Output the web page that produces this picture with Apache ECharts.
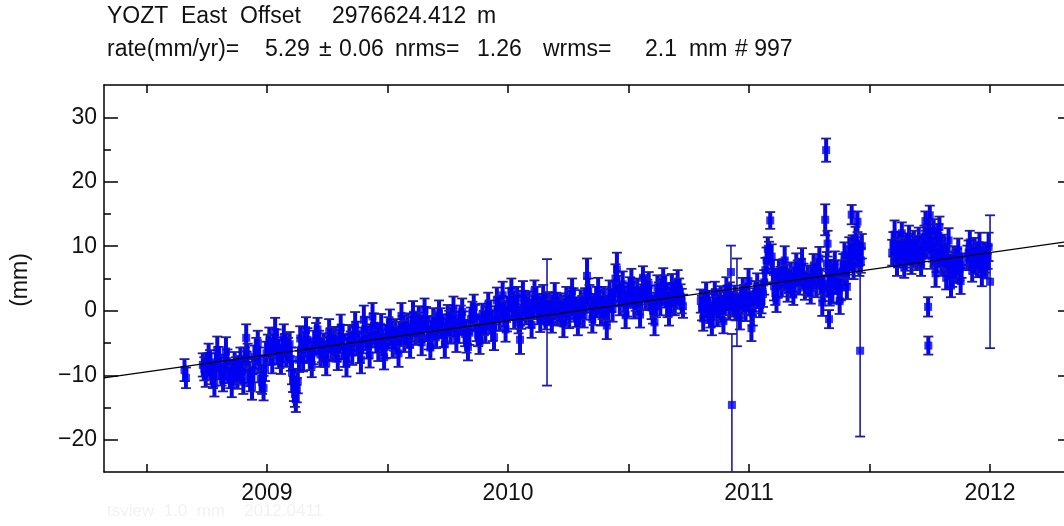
<!DOCTYPE html>
<html>
<head>
<meta charset="utf-8">
<script src="https://cdn.jsdelivr.net/npm/echarts@6/dist/echarts.min.js"></script>
<style>
  html, body { margin: 0; background: #fff; }
  #chart { width: 1064px; height: 526px; }
</style>
</head>
<body>
<div id="chart"></div>
<script>
// daily east positions (decimal year, mm, 1-sigma mm)
const obsYear = [
  2008.658, 2008.664,
  2008.734, 2008.746, 2008.758, 2008.770, 2008.782, 2008.794, 2008.806, 2008.818, 2008.830, 2008.842, 2008.854, 2008.866, 2008.878, 2008.890, 2008.902,
  2008.914, 2008.926, 2008.938, 2008.950, 2008.962, 2008.974, 2008.986, 2008.998,
  2009.010, 2009.022, 2009.034, 2009.046, 2009.058, 2009.070, 2009.082, 2009.094,
  2009.104, 2009.112, 2009.120, 2009.128,
  2009.138, 2009.150, 2009.162, 2009.174, 2009.186, 2009.198, 2009.210, 2009.222, 2009.234, 2009.246, 2009.258, 2009.270, 2009.282, 2009.294, 2009.306, 2009.318, 2009.330, 2009.342,
  2009.354, 2009.366, 2009.378, 2009.390, 2009.402, 2009.414, 2009.426, 2009.438, 2009.450, 2009.462, 2009.474, 2009.486, 2009.498, 2009.510, 2009.522, 2009.534, 2009.546, 2009.558, 2009.570,
  2009.582, 2009.594, 2009.606, 2009.618, 2009.630, 2009.642, 2009.654, 2009.666, 2009.678, 2009.690, 2009.702, 2009.714, 2009.726, 2009.738, 2009.750, 2009.762, 2009.774, 2009.786, 2009.798, 2009.810, 2009.822, 2009.834, 2009.846, 2009.858, 2009.870, 2009.882, 2009.894, 2009.906, 2009.918, 2009.930, 2009.942,
  2009.954, 2009.966, 2009.978, 2009.990, 2010.002, 2010.014, 2010.026, 2010.038, 2010.050, 2010.062, 2010.074, 2010.086, 2010.098, 2010.110, 2010.122, 2010.134, 2010.146, 2010.156, 2010.162,
  2010.170, 2010.182, 2010.194, 2010.206, 2010.218, 2010.230, 2010.242, 2010.254, 2010.266, 2010.278, 2010.290, 2010.302, 2010.314, 2010.328, 2010.338, 2010.350, 2010.362, 2010.374, 2010.386, 2010.398, 2010.410, 2010.422, 2010.434, 2010.446, 2010.452, 2010.464, 2010.476, 2010.488, 2010.500,
  2010.512, 2010.524, 2010.536, 2010.548, 2010.560, 2010.572, 2010.584, 2010.596, 2010.608, 2010.620, 2010.632, 2010.644, 2010.656, 2010.668, 2010.680, 2010.692, 2010.704, 2010.716, 2010.726,
  2010.800, 2010.810, 2010.822, 2010.834, 2010.846, 2010.858, 2010.870, 2010.882, 2010.894, 2010.906, 2010.918, 2010.925, 2010.929,
  2010.940, 2010.950, 2010.962, 2010.974, 2010.986, 2010.998, 2011.010, 2011.022, 2011.034, 2011.046,
  2011.058, 2011.068, 2011.078, 2011.088, 2011.094, 2011.104, 2011.114, 2011.124,
  2011.136, 2011.148, 2011.160, 2011.172, 2011.184, 2011.196, 2011.208, 2011.220, 2011.232, 2011.244, 2011.256,
  2011.268, 2011.280, 2011.292, 2011.304, 2011.316, 2011.320, 2011.326, 2011.332, 2011.338, 2011.346,
  2011.356, 2011.366, 2011.376, 2011.386, 2011.396, 2011.406,
  2011.416, 2011.426, 2011.434, 2011.442, 2011.450, 2011.458, 2011.461, 2011.468,
  2011.594, 2011.604, 2011.614, 2011.624, 2011.634, 2011.644, 2011.654, 2011.664, 2011.674, 2011.684, 2011.694, 2011.704, 2011.714,
  2011.724, 2011.732, 2011.740, 2011.743, 2011.744, 2011.750, 2011.758, 2011.766, 2011.774, 2011.782, 2011.790, 2011.798,
  2011.808, 2011.818, 2011.828, 2011.838, 2011.848, 2011.858, 2011.868, 2011.878,
  2011.906, 2011.916, 2011.926, 2011.936, 2011.946, 2011.956, 2011.966, 2011.976, 2011.986, 2011.994, 2012.000
];
const obsEast = [
  -9.2, -10.4,
  -8.4, -10.1, -7.0, -9.6, -11.3, -6.1, -8.9, -10.7, -6.3, -9.5, -11.5, -8.2, -10.4, -7.5, -11.0,
  -4.2, -9.8, -11.8, -7.2, -5.0, -10.5, -12.0, -6.6,
  -4.6, -7.9, -3.3, -6.4, -8.1, -4.1, -6.9, -5.2,
  -9.6, -12.1, -13.6, -11.0,
  -4.3, -7.6, -3.0, -6.2, -8.4, -4.9, -2.9, -6.8, -5.3, -8.0, -3.4, -6.0, -4.4, -7.4, -2.6, -5.6, -8.2, -4.0,
  -6.5, -2.2, -5.1, -7.6, -1.4, -4.3, -6.9, -0.9, -3.7, -5.9, -2.5, -7.2, -4.0, -1.8, -5.4, -3.1, -6.6, -0.8, -4.6,
  -2.3, -5.3, -0.6, -3.5, -1.2, -4.9, 0.1, -2.8, -5.7, -1.6, -3.9, -0.4, -2.4, -5.2, -1.0, -3.3, 0.3, -4.4, -1.9, -0.2, -3.6, -5.6, -1.3, 0.6, -2.7, -4.8, -0.7, -3.0, 0.9, -1.8, -4.1,
  1.6, -1.2, 2.4, -2.9, 0.4, 3.1, -0.8, 1.9, -4.5, 2.6, -0.2, 1.2, -2.2, 3.0, 0.7, -1.5, 2.1, -0.9, -1.8,
  1.0, -1.6, 2.3, -0.4, 0.9, -2.0, 1.8, -0.9, 3.0, 0.2, -1.9, 1.4, -0.6, 5.4, 2.1, -1.3, 0.8, 3.2, -0.5, 1.7, -2.3, 2.8, 0.3, 5.0, 6.4, 1.2, 4.1, -0.7, 2.5,
  4.6, 0.9, 3.2, -0.6, 5.1, 2.0, 4.0, 0.5, -1.8, 3.6, 1.4, 4.8, 2.4, -0.3, 3.8, 1.1, 4.3, 2.2, 0.7,
  1.5, -1.2, 2.6, 0.1, -2.0, 2.9, -0.5, 1.8, -1.6, 3.4, 0.6, 6.0, -14.6,
  2.0, 1.3, -1.0, 3.3, 0.4, 4.6, -2.7, 1.7, 3.8, 0.9,
  2.6, 6.3, 9.6, 14.0, 8.4, 3.8, 1.6, 5.9,
  4.2, 7.8, 3.3, 5.7, 2.5, 6.9, 4.4, 7.6, 3.6, 5.2, 2.9,
  6.8, 4.0, 8.1, 1.3, 14.1, 24.9, 10.4, -1.3, 6.0, 3.1,
  7.2, 4.4, 1.5, 5.9, 8.6, 3.7,
  9.4, 14.9, 6.8, 11.2, 13.8, 7.5, -6.2, 10.0,
  9.0, 11.8, 7.3, 10.2, 12.0, 6.9, 9.6, 11.4, 7.8, 10.5, 8.3, 11.0, 7.2,
  9.9, 13.9, 11.2, 0.6, -5.4, 14.8, 8.5, 12.4, 5.8, 10.6, 13.0, 7.4,
  9.8, 5.1, 10.9, 3.9, 8.0, 6.2, 9.4, 4.6,
  8.2, 10.6, 6.4, 9.3, 7.0, 10.1, 5.7, 8.8, 6.9, 9.9, 4.5
];
const obsSigma = [
  1.7, 1.6,
  1.8, 1.7, 1.9, 1.8, 2.0, 2.1, 1.7, 1.8, 2.2, 1.7, 1.9, 1.8, 1.7, 1.8, 1.9,
  2.1, 1.9, 2.0, 1.8, 1.9, 2.1, 1.9, 1.8,
  2.0, 1.8, 2.2, 1.9, 1.7, 2.0, 1.8, 1.9,
  1.8, 1.9, 2.1, 1.8,
  1.9, 1.8, 2.0, 1.9, 1.9, 1.8, 1.8, 1.9, 1.8, 2.0, 2.1, 1.8, 1.9, 1.8, 2.0, 1.9, 2.0, 1.8,
  1.9, 2.0, 1.8, 2.1, 2.2, 1.8, 1.9, 2.1, 1.8, 1.9, 2.0, 1.9, 1.8, 2.0, 1.9, 1.8, 2.1, 2.0, 1.8,
  1.9, 2.0, 2.1, 1.8, 1.9, 2.0, 1.8, 1.9, 1.8, 2.0, 1.9, 2.0, 1.8, 2.1, 1.9, 1.8, 1.9, 2.0, 1.8, 2.1, 1.9, 2.1, 1.8, 1.9, 2.0, 1.9, 1.8, 2.0, 1.9, 1.8, 2.0,
  2.0, 1.9, 2.1, 1.9, 1.8, 1.9, 2.0, 1.8, 2.2, 2.0, 1.9, 1.8, 2.0, 1.7, 1.9, 1.8, 1.9, 2.0, 9.8,
  1.9, 1.8, 2.0, 1.9, 1.8, 2.1, 1.9, 1.8, 2.0, 1.9, 1.9, 1.8, 2.0, 2.7, 1.9, 2.1, 1.8, 1.9, 1.8, 2.0, 2.1, 1.9, 2.0, 2.2, 2.6, 1.9, 2.0, 2.0, 1.8,
  1.9, 2.1, 1.8, 2.0, 1.8, 1.9, 2.0, 1.8, 2.0, 1.9, 2.1, 1.8, 1.9, 2.0, 1.9, 1.8, 2.0, 1.9, 1.8,
  1.8, 1.9, 1.8, 2.0, 1.8, 1.6, 1.9, 2.0, 1.9, 1.8, 2.0, 4.1, 11.0,
  1.9, 6.8, 1.9, 1.8, 2.0, 1.9, 2.0, 1.8, 2.0, 1.9,
  2.0, 1.9, 1.8, 1.3, 1.9, 2.2, 1.8, 2.0,
  2.0, 2.2, 1.9, 1.8, 1.6, 2.0, 1.9, 2.1, 1.9, 1.8, 1.8,
  2.0, 1.9, 1.8, 2.1, 2.4, 1.8, 2.0, 1.4, 1.9, 2.0,
  2.0, 1.8, 2.0, 1.9, 2.0, 1.9,
  2.0, 1.5, 1.9, 1.8, 1.6, 2.1, 13.3, 1.9,
  2.0, 2.2, 1.9, 2.0, 1.7, 1.8, 2.0, 1.8, 2.1, 1.9, 2.0, 1.9, 1.8,
  1.8, 1.5, 2.0, 1.5, 1.4, 1.5, 2.0, 1.8, 2.1, 1.9, 1.6, 2.0,
  2.0, 1.8, 1.9, 1.8, 2.0, 1.9, 1.8, 2.0,
  1.9, 1.8, 1.9, 2.0, 1.8, 2.0, 1.9, 1.8, 1.9, 2.2, 10.3
];

// the in-between days that fill the dense middle of the band
const midYear = [
  2008.740, 2008.752, 2008.764, 2008.776, 2008.788, 2008.800, 2008.812, 2008.824, 2008.836, 2008.848, 2008.860, 2008.872, 2008.884, 2008.896,
  2008.908, 2008.920, 2008.932, 2008.944, 2008.956, 2008.968, 2008.980, 2008.992, 2009.004,
  2009.016, 2009.028, 2009.040, 2009.052, 2009.064, 2009.076, 2009.088, 2009.099,
  2009.108, 2009.116, 2009.124, 2009.133,
  2009.144, 2009.156, 2009.168, 2009.180, 2009.192, 2009.204, 2009.216, 2009.228, 2009.240, 2009.252, 2009.264, 2009.276, 2009.288, 2009.300, 2009.312, 2009.324, 2009.336, 2009.348,
  2009.360, 2009.372, 2009.384, 2009.396, 2009.408, 2009.420, 2009.432, 2009.444, 2009.456, 2009.468, 2009.480, 2009.492, 2009.504, 2009.516, 2009.528, 2009.540, 2009.552, 2009.564, 2009.576,
  2009.588, 2009.600, 2009.612, 2009.624, 2009.636, 2009.648, 2009.660, 2009.672, 2009.684, 2009.696, 2009.708, 2009.720, 2009.732, 2009.744, 2009.756, 2009.768, 2009.780, 2009.792, 2009.804, 2009.816, 2009.828, 2009.840, 2009.852, 2009.864, 2009.876, 2009.888, 2009.900, 2009.912, 2009.924, 2009.936, 2009.948,
  2009.960, 2009.972, 2009.984, 2009.996, 2010.008, 2010.020, 2010.032, 2010.044, 2010.056, 2010.068, 2010.080, 2010.092, 2010.104, 2010.116, 2010.128, 2010.140, 2010.151,
  2010.166, 2010.176, 2010.188, 2010.200, 2010.212, 2010.224, 2010.236, 2010.248, 2010.260, 2010.272, 2010.284, 2010.296, 2010.308, 2010.320, 2010.333, 2010.344, 2010.356, 2010.368, 2010.380, 2010.392, 2010.404, 2010.416, 2010.428, 2010.440, 2010.458, 2010.470, 2010.482, 2010.494, 2010.506,
  2010.518, 2010.530, 2010.542, 2010.554, 2010.566, 2010.578, 2010.590, 2010.602, 2010.614, 2010.626, 2010.638, 2010.650, 2010.662, 2010.674, 2010.686, 2010.698, 2010.710, 2010.721,
  2010.805, 2010.816, 2010.828, 2010.840, 2010.852, 2010.864, 2010.876, 2010.888, 2010.900, 2010.912, 2010.921,
  2010.934, 2010.945, 2010.956, 2010.968, 2010.980, 2010.992, 2011.004, 2011.016, 2011.028, 2011.040, 2011.052,
  2011.063, 2011.073, 2011.083, 2011.099, 2011.109, 2011.119, 2011.130,
  2011.142, 2011.154, 2011.166, 2011.178, 2011.190, 2011.202, 2011.214, 2011.226, 2011.238, 2011.250, 2011.262,
  2011.274, 2011.286, 2011.298, 2011.310, 2011.323, 2011.329, 2011.335, 2011.342,
  2011.351, 2011.361, 2011.371, 2011.381, 2011.391, 2011.401, 2011.411,
  2011.421, 2011.430, 2011.438, 2011.446, 2011.454, 2011.464,
  2011.599, 2011.609, 2011.619, 2011.629, 2011.639, 2011.649, 2011.659, 2011.669, 2011.679, 2011.689, 2011.699, 2011.709, 2011.719,
  2011.728, 2011.736, 2011.747, 2011.754, 2011.762, 2011.770, 2011.778, 2011.786, 2011.794, 2011.803,
  2011.813, 2011.823, 2011.833, 2011.843, 2011.853, 2011.863, 2011.873, 2011.882,
  2011.911, 2011.921, 2011.931, 2011.941, 2011.951, 2011.961, 2011.971, 2011.981, 2011.990
];
const midEast = [
  -9.0, -8.3, -8.0, -10.2, -8.6, -7.4, -9.9, -8.7, -7.8, -10.3, -9.6, -9.1, -8.8, -9.4,
  -7.6, -6.9, -10.6, -9.3, -6.1, -7.7, -11.1, -9.0, -5.5,
  -6.3, -5.5, -4.9, -7.1, -6.0, -5.4, -6.1, -7.5,
  -10.8, -12.9, -12.3, -7.6,
  -6.0, -5.2, -4.5, -7.3, -6.5, -3.8, -4.9, -6.1, -6.7, -5.8, -4.6, -5.3, -6.0, -4.8, -4.1, -6.9, -6.1, -5.0,
  -4.4, -3.5, -6.2, -4.6, -2.8, -5.5, -3.9, -2.3, -4.7, -4.1, -4.9, -5.6, -2.9, -3.5, -4.3, -4.8, -3.6, -2.6, -3.4,
  -3.9, -2.8, -2.1, -2.3, -3.0, -2.5, -1.3, -4.2, -3.6, -2.7, -2.2, -1.5, -3.8, -3.1, -2.0, -1.4, -2.1, -3.2, -1.1, -1.9, -4.5, -3.4, -0.4, -1.0, -3.7, -2.8, -1.9, -1.1, -0.3, -2.9, -1.2,
  0.3, 0.5, -0.4, -1.3, 1.7, 1.0, 0.6, -1.5, -0.9, 1.3, 0.4, -0.6, 0.5, 1.8, -0.3, 0.2, 0.8,
  0.1, -0.2, 0.5, 0.9, 0.2, -0.5, -0.1, 0.6, 1.2, 1.5, -0.7, -0.2, 0.5, 1.6, 3.0, 0.4, -0.3, 1.9, 1.3, 0.5, -0.2, 0.4, 1.6, 2.6, 3.4, 2.5, 1.8, 0.9, 3.3,
  2.6, 1.8, 1.4, 2.2, 3.5, 2.9, 2.1, 0.0, 0.9, 2.6, 3.0, 3.7, 1.0, 1.6, 2.3, 2.8, 3.2, 1.5,
  0.4, 0.8, 1.2, -0.8, 0.6, 1.3, 0.5, 0.2, 1.1, 2.0, 2.4,
  1.0, 0.3, 0.8, 1.4, 2.0, 2.3, 1.2, -0.4, 2.6, 2.2, 1.5,
  4.4, 7.8, 8.9, 6.0, 2.7, 3.9, 5.0,
  6.1, 5.3, 4.6, 4.0, 4.8, 5.8, 6.2, 5.4, 4.3, 4.1, 4.9,
  5.6, 6.2, 4.5, 3.4, 7.3, 4.2, 2.6, 4.7,
  5.3, 6.0, 3.2, 3.6, 7.0, 6.1, 6.8,
  8.1, 9.9, 8.7, 9.6, 8.9, 7.8,
  10.3, 9.4, 8.6, 9.1, 9.5, 8.1, 10.2, 9.0, 8.7, 9.8, 9.3, 8.9, 8.4,
  11.4, 10.1, 12.3, 10.9, 9.6, 8.7, 7.9, 11.6, 9.2, 8.5,
  7.6, 8.2, 6.8, 5.7, 7.4, 7.7, 6.5, 7.0,
  9.0, 8.4, 7.6, 8.1, 8.6, 7.9, 7.2, 7.8, 8.3
];
const midSigma = [
  1.8, 1.7, 1.9, 1.8, 2.0, 1.8, 1.7, 1.9, 1.8, 1.7, 1.8, 1.9, 1.7, 1.8,
  1.9, 1.8, 1.9, 1.8, 1.9, 2.0, 1.8, 1.9, 1.8,
  1.9, 1.8, 2.0, 1.8, 1.9, 1.8, 1.9, 1.8,
  1.8, 2.0, 1.9, 1.9,
  1.8, 1.9, 1.8, 1.9, 1.8, 1.9, 1.8, 1.9, 2.0, 1.8, 1.9, 1.8, 1.9, 1.8, 1.9, 1.8, 1.9, 1.8,
  1.9, 1.8, 1.9, 2.0, 1.8, 1.9, 1.8, 1.9, 1.8, 1.9, 2.0, 1.8, 1.9, 1.8, 1.9, 1.8, 1.9, 1.8, 1.9,
  1.8, 1.9, 1.8, 2.0, 1.9, 1.8, 1.9, 1.8, 2.0, 1.9, 1.8, 1.9, 1.8, 1.9, 2.0, 1.8, 1.9, 1.8, 1.9, 1.8, 2.0, 1.9, 1.8, 1.9, 1.8, 2.0, 1.9, 1.8, 1.9, 1.8, 1.9,
  1.9, 1.8, 2.0, 1.9, 1.8, 1.9, 1.8, 2.0, 1.9, 1.8, 1.9, 2.0, 1.8, 1.9, 1.8, 1.9, 1.8,
  1.8, 1.9, 1.8, 1.9, 2.0, 1.8, 1.9, 1.8, 1.9, 2.0, 1.8, 1.9, 1.8, 1.9, 2.0, 1.8, 1.9, 1.8, 1.9, 1.8, 2.0, 1.9, 1.8, 1.9, 2.0, 1.8, 1.9, 1.8, 1.9,
  1.9, 1.8, 2.0, 1.9, 1.8, 1.9, 1.8, 2.0, 1.9, 1.8, 1.9, 1.8, 2.0, 1.9, 1.8, 1.9, 1.8, 1.9,
  1.9, 1.8, 1.9, 1.8, 2.0, 1.9, 1.8, 1.9, 1.8, 1.9, 2.0,
  1.9, 1.8, 1.9, 1.8, 2.0, 1.9, 1.8, 1.9, 2.0, 1.8, 1.9,
  1.9, 2.0, 1.8, 1.9, 1.8, 1.9, 1.8,
  1.9, 1.8, 1.9, 1.8, 1.9, 2.0, 1.8, 1.9, 1.8, 1.9, 1.8,
  1.9, 1.8, 2.0, 1.9, 1.8, 1.9, 1.8, 1.9,
  1.9, 1.8, 1.9, 2.0, 1.8, 1.9, 1.8,
  1.9, 1.8, 1.9, 1.8, 2.0, 1.9,
  1.9, 1.8, 1.9, 2.0, 1.8, 1.9, 1.8, 1.9, 2.0, 1.8, 1.9, 1.8, 1.9,
  1.8, 1.9, 1.8, 1.9, 2.0, 1.8, 1.9, 1.8, 1.9, 1.8,
  1.9, 1.8, 1.9, 2.0, 1.8, 1.9, 1.8, 1.9,
  1.9, 1.8, 1.9, 1.8, 2.0, 1.9, 1.8, 1.9, 1.8
];

// fitted linear trend (5.29 mm/yr), ends at the plot edges
const trendYear = [2008.324, 2012.34];
const trendEast = [-10.4, 10.8];

// axis ticks
const yLabelTicks = [-20, -10, 0, 10, 20, 30];
const yMinorTicks = [-15, -5, 5, 15, 25];
const xTickYears = [2008.5, 2009, 2009.5, 2010, 2010.5, 2011, 2011.5, 2012];
const xLabelYears = [2009, 2010, 2011, 2012];

const FONT = 'Liberation Sans, Arial, sans-serif';
const barColor = '#0808e4';
const capColor = '#1c1ca6';
const dotColor = '#0000f4';

const points = obsYear.map((t, i) => [t, obsEast[i], obsSigma[i]])
  .concat(midYear.map((t, i) => [t, midEast[i], midSigma[i]]));
const trend = trendYear.map((t, i) => [t, trendEast[i]]);

function errorBar(params, api) {
  const t = api.value(0), v = api.value(1), s = api.value(2);
  const hi = api.coord([t, v + s]);
  const lo = api.coord([t, v - s]);
  const w = 5;
  // long, isolated bars thin; the dense daily ones thicker so they merge
  const long = s > 3;
  const cap = { stroke: capColor, lineWidth: 1.8 };
  return {
    type: 'group',
    children: [
      { type: 'line', shape: { x1: hi[0], y1: hi[1], x2: lo[0], y2: lo[1] },
        style: { stroke: long ? capColor : barColor, lineWidth: long ? 1.6 : 4 } },
      { type: 'line', shape: { x1: hi[0] - w, y1: hi[1], x2: hi[0] + w, y2: hi[1] }, style: cap },
      { type: 'line', shape: { x1: lo[0] - w, y1: lo[1], x2: lo[0] + w, y2: lo[1] }, style: cap }
    ]
  };
}

// title pieces: [text, left px]
const line1 = [['YOZT', 107], ['East', 181], ['Offset', 240], ['2976624.412', 332], ['m', 477]];
const line2 = [['rate(mm/yr)=', 107], ['5.29', 265], ['±', 319], ['0.06', 339], ['nrms=', 395],
               ['1.26', 477], ['wrms=', 543], ['2.1', 645], ['mm', 689], ['# 997', 735]];

function textEl(str, x, y, size, fill) {
  return {
    type: 'text', x: x, y: y,
    style: { text: str, font: size + 'px ' + FONT, fill: fill, verticalAlign: 'middle' }
  };
}

const graphics = []
line1.forEach(p => graphics.push(textEl(p[0], p[1], 17, 23, '#111')))
line2.forEach(p => graphics.push(textEl(p[0], p[1], 50, 23, '#111')))
graphics.push({
  type: 'text', x: 21, y: 280, rotation: Math.PI / 2,
  style: { text: '(mm)', font: '23px ' + FONT, fill: '#111', align: 'center', verticalAlign: 'middle' }
})
// faint footer line under the plot
graphics.push(textEl('tsview  1.0  mm    2012.0411', 107, 511, 17, '#f2f2f2'))

const labelStyle = { fontFamily: FONT, fontSize: 23, color: '#111' };
const frameLine = { show: true, onZero: false, lineStyle: { color: '#000', width: 1.5 } };
const tickLine = { color: '#000', width: 1.5 };

const chart = echarts.init(document.getElementById('chart'));
chart.setOption({
  animation: false,
  backgroundColor: '#fff',
  graphic: graphics,
  grid: { left: 104, top: 85, width: 968, height: 387, outerBoundsMode: 'none' },
  xAxis: [
    {
      type: 'value', position: 'bottom', min: 2008.324, max: 2012.34,
      axisLine: frameLine,
      axisTick: { inside: true, length: 8, customValues: xTickYears, lineStyle: tickLine },
      axisLabel: Object.assign({ margin: 10, customValues: xLabelYears, formatter: v => String(v) }, labelStyle),
      splitLine: { show: false }
    },
    {
      type: 'value', position: 'top', min: 2008.324, max: 2012.34,
      axisLine: frameLine,
      axisTick: { inside: true, length: 8, customValues: xTickYears, lineStyle: tickLine },
      axisLabel: { show: false },
      splitLine: { show: false }
    }
  ],
  yAxis: [
    {
      type: 'value', position: 'left', min: -25, max: 35,
      axisLine: frameLine,
      axisTick: { inside: true, length: 14, customValues: yLabelTicks, lineStyle: tickLine },
      axisLabel: Object.assign({ margin: 7, customValues: yLabelTicks,
        formatter: v => String(v).replace('-', '\u2212') }, labelStyle),
      splitLine: { show: false }
    },
    {
      type: 'value', position: 'left', min: -25, max: 35,
      axisLine: { show: false },
      axisTick: { inside: true, length: 7, customValues: yMinorTicks, lineStyle: tickLine },
      axisLabel: { show: false },
      splitLine: { show: false }
    },
    {
      type: 'value', position: 'right', min: -25, max: 35,
      axisLine: frameLine,
      axisTick: { inside: true, length: 14, customValues: yLabelTicks, lineStyle: tickLine },
      axisLabel: { show: false },
      splitLine: { show: false }
    }
  ],
  series: [
    {
      type: 'custom',
      renderItem: errorBar,
      data: points,
      encode: { x: 0, y: 1 },
      clip: true,
      z: 2
    },
    {
      type: 'scatter',
      data: points,
      symbol: 'rect',
      symbolSize: 8,
      itemStyle: { color: dotColor },
      z: 3
    },
    {
      type: 'line',
      data: trend,
      showSymbol: false,
      lineStyle: { color: '#000', width: 1.2 },
      z: 4
    }
  ]
});
</script>
</body>
</html>
